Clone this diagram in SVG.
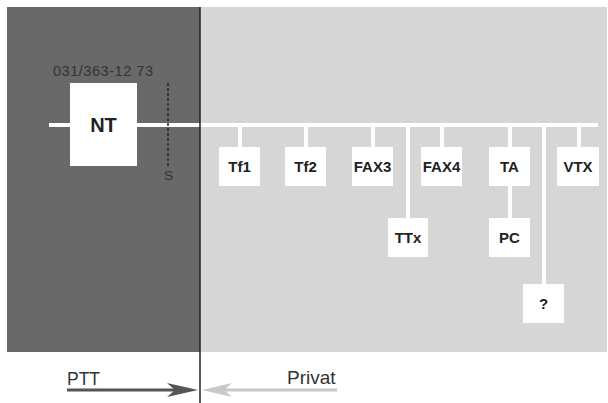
<svg xmlns="http://www.w3.org/2000/svg" width="608" height="403" viewBox="0 0 608 403">
  <style>
    .box { fill: #ffffff; }
    .lbl { font-family: "Liberation Sans", Arial, sans-serif; font-weight: bold; font-size: 15px; fill: #222; text-anchor: middle; }
    .wire { stroke: #ffffff; stroke-width: 4; fill: none; }
    .cap { font-family: "Liberation Sans", Arial, sans-serif; fill: #333; }
  </style>

  <rect width="608" height="403" fill="#ffffff"/>

  <!-- network operator side and private side -->
  <rect id="zone-ptt" x="7" y="7" width="193" height="345" fill="#696969"/>
  <rect id="zone-privat" x="200" y="7" width="407" height="345" fill="#d6d6d4"/>

  <!-- bus and branch wiring -->
  <g id="connectors">
    <line class="wire" x1="49" y1="125" x2="598" y2="125"/>
    <line class="wire" x1="240" y1="125" x2="240" y2="148"/>
    <line class="wire" x1="306" y1="125" x2="306" y2="148"/>
    <line class="wire" x1="373" y1="125" x2="373" y2="148"/>
    <line class="wire" x1="408" y1="125" x2="408" y2="219"/>
    <line class="wire" x1="442" y1="125" x2="442" y2="148"/>
    <line class="wire" x1="510" y1="125" x2="510" y2="219"/>
    <line class="wire" x1="544" y1="125" x2="544" y2="285"/>
    <line class="wire" x1="579" y1="125" x2="579" y2="148"/>
    <!-- S reference point -->
    <line x1="168" y1="83" x2="168" y2="166" stroke="#222" stroke-width="1.5" stroke-dasharray="3,2"/>
  </g>

  <text class="cap" x="53" y="76" style="font-size:14.5px" textLength="100">031/363-12 73</text>
  <text class="cap" x="168.5" y="180" style="font-size:13.5px" text-anchor="middle">S</text>

  <g id="NT">
    <rect class="box" x="70" y="83" width="67" height="83"/>
    <text class="lbl" x="103.5" y="132" style="font-size:20px">NT</text>
  </g>
  <g id="Tf1">
    <rect class="box" x="219" y="147" width="41" height="39"/>
    <text class="lbl" x="239.5" y="172">Tf1</text>
  </g>
  <g id="Tf2">
    <rect class="box" x="285" y="147" width="41" height="39"/>
    <text class="lbl" x="305.5" y="172">Tf2</text>
  </g>
  <g id="FAX3">
    <rect class="box" x="352" y="147" width="41" height="39"/>
    <text class="lbl" x="372.5" y="172">FAX3</text>
  </g>
  <g id="TTx">
    <rect class="box" x="388" y="218" width="40" height="39"/>
    <text class="lbl" x="408" y="243">TTx</text>
  </g>
  <g id="FAX4">
    <rect class="box" x="421" y="147" width="41" height="39"/>
    <text class="lbl" x="441.5" y="172">FAX4</text>
  </g>
  <g id="TA">
    <rect class="box" x="489" y="147" width="41" height="39"/>
    <text class="lbl" x="509.5" y="172">TA</text>
  </g>
  <g id="PC">
    <rect class="box" x="489" y="218" width="41" height="39"/>
    <text class="lbl" x="509.5" y="243">PC</text>
  </g>
  <g id="unknown">
    <rect class="box" x="523" y="284" width="41" height="39"/>
    <text class="lbl" x="543.5" y="309">?</text>
  </g>
  <g id="VTX">
    <rect class="box" x="557" y="147" width="42" height="39"/>
    <text class="lbl" x="578" y="172">VTX</text>
  </g>

  <!-- boundary line -->
  <line x1="200" y1="7" x2="200" y2="403" stroke="#222" stroke-width="1.5"/>

  <!-- responsibility arrows -->
  <text class="cap" x="67" y="385" style="font-size:17.5px">PTT</text>
  <text class="cap" x="287" y="384" style="font-size:19px">Privat</text>
  <g id="arrow-ptt">
    <line x1="67" y1="390" x2="176" y2="390" stroke="#555" stroke-width="3"/>
    <path d="M167,383 L198,390 L167,397 L175,390 Z" fill="#555"/>
  </g>
  <g id="arrow-privat">
    <line x1="337" y1="390" x2="222" y2="390" stroke="#c8c8c8" stroke-width="3"/>
    <path d="M232,383 L202,390 L232,397 L224,390 Z" fill="#c8c8c8"/>
  </g>
</svg>
